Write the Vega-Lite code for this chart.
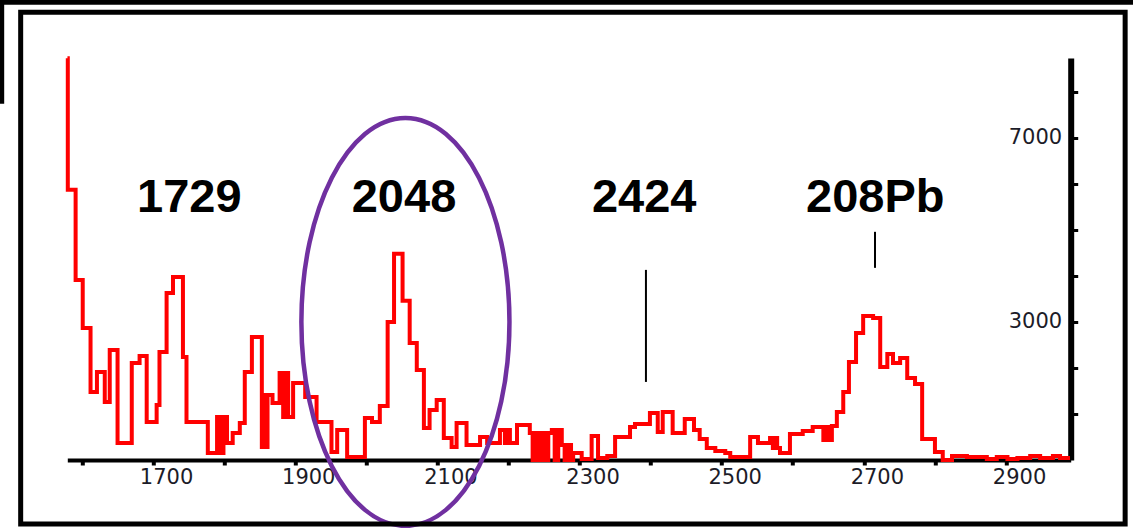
{
  "$schema": "https://vega.github.io/schema/vega-lite/v6.json",
  "width": 1003.4,
  "height": 402,
  "autosize": {"type": "none"},
  "padding": {"left": 67.3, "top": 58, "right": 62.3, "bottom": 68},
  "background": "white",
  "config": {
    "view": {"stroke": null},
    "axis": {"grid": false, "title": null},
    "axisX": {
      "labelOffset": 13, "labelPadding": 1, "labelFont": "DejaVu Sans", "labelFontSize": 21,
      "labelColor": "#1c1c28", "labelFlush": false, "labelOverlap": false,
      "domainColor": "black", "domainWidth": 4, "tickColor": "black", "tickWidth": 4, "tickSize": 5
    },
    "axisY": {
      "labelAlign": "right", "labelPadding": -16, "labelFont": "DejaVu Sans", "labelFontSize": 21,
      "labelColor": "#1c1c28", "labelFlush": false, "labelOverlap": false, "labelBaseline": "middle",
      "domainColor": "black", "domainWidth": 6, "tickColor": "black", "tickWidth": 3, "tickSize": 7
    }
  },
  "datasets": {
    "spectrum": [
      {"e": 1579.5, "c": 8730}, {"e": 1580, "c": 5870}, {"e": 1591, "c": 3913}, {"e": 1601, "c": 2870},
      {"e": 1612, "c": 1478}, {"e": 1621, "c": 1913}, {"e": 1632, "c": 1261}, {"e": 1639, "c": 2391},
      {"e": 1650, "c": 370}, {"e": 1670, "c": 2109}, {"e": 1681, "c": 2261}, {"e": 1691, "c": 826},
      {"e": 1705, "c": 1196}, {"e": 1709, "c": 2348}, {"e": 1719, "c": 3630}, {"e": 1728, "c": 3978},
      {"e": 1742, "c": 2239}, {"e": 1747, "c": 826}, {"e": 1777, "c": 152}, {"e": 1790, "c": 935},
      {"e": 1795, "c": 152}, {"e": 1799, "c": 935}, {"e": 1804, "c": 370}, {"e": 1812, "c": 587},
      {"e": 1822, "c": 804}, {"e": 1829, "c": 1913}, {"e": 1839, "c": 2674}, {"e": 1853, "c": 283},
      {"e": 1856, "c": 1413}, {"e": 1859, "c": 283}, {"e": 1861, "c": 1413}, {"e": 1868, "c": 1239},
      {"e": 1878, "c": 1891}, {"e": 1883, "c": 935}, {"e": 1885, "c": 1891}, {"e": 1890, "c": 935},
      {"e": 1897, "c": 1674}, {"e": 1914, "c": 1370}, {"e": 1930, "c": 826}, {"e": 1951, "c": 174},
      {"e": 1959, "c": 652}, {"e": 1973, "c": 65}, {"e": 1998, "c": 913}, {"e": 2008, "c": 826},
      {"e": 2019, "c": 1174}, {"e": 2030, "c": 3000}, {"e": 2039, "c": 4478}, {"e": 2051, "c": 3457},
      {"e": 2061, "c": 2543}, {"e": 2071, "c": 1957}, {"e": 2081, "c": 696}, {"e": 2089, "c": 1087},
      {"e": 2099, "c": 1304}, {"e": 2109, "c": 478}, {"e": 2120, "c": 283}, {"e": 2127, "c": 804},
      {"e": 2141, "c": 326}, {"e": 2160, "c": 500}, {"e": 2170, "c": 370}, {"e": 2188, "c": 652},
      {"e": 2195, "c": 370}, {"e": 2198, "c": 652}, {"e": 2202, "c": 370}, {"e": 2212, "c": 761},
      {"e": 2230, "c": 587}, {"e": 2234, "c": 0}, {"e": 2239, "c": 587}, {"e": 2243, "c": 0},
      {"e": 2247, "c": 587}, {"e": 2251, "c": 0}, {"e": 2256, "c": 587}, {"e": 2261, "c": 652},
      {"e": 2265, "c": 0}, {"e": 2270, "c": 652}, {"e": 2275, "c": 326}, {"e": 2279, "c": 0},
      {"e": 2284, "c": 326}, {"e": 2288, "c": 0}, {"e": 2291, "c": 152}, {"e": 2303, "c": 22},
      {"e": 2317, "c": 522}, {"e": 2326, "c": 43}, {"e": 2339, "c": 87}, {"e": 2350, "c": 500},
      {"e": 2371, "c": 717}, {"e": 2378, "c": 783}, {"e": 2399, "c": 1022}, {"e": 2410, "c": 609},
      {"e": 2417, "c": 1043}, {"e": 2431, "c": 587}, {"e": 2448, "c": 891}, {"e": 2461, "c": 652},
      {"e": 2469, "c": 457}, {"e": 2479, "c": 261}, {"e": 2491, "c": 196}, {"e": 2505, "c": 152},
      {"e": 2512, "c": 65}, {"e": 2540, "c": 500}, {"e": 2551, "c": 370}, {"e": 2568, "c": 478},
      {"e": 2572, "c": 261}, {"e": 2575, "c": 478}, {"e": 2578, "c": 261}, {"e": 2582, "c": 152},
      {"e": 2596, "c": 565}, {"e": 2614, "c": 630}, {"e": 2628, "c": 717}, {"e": 2638, "c": 717},
      {"e": 2643, "c": 435}, {"e": 2647, "c": 717}, {"e": 2651, "c": 435}, {"e": 2655, "c": 739},
      {"e": 2662, "c": 1043}, {"e": 2671, "c": 1478}, {"e": 2679, "c": 2130}, {"e": 2689, "c": 2761},
      {"e": 2699, "c": 3130}, {"e": 2713, "c": 3087}, {"e": 2723, "c": 2022}, {"e": 2733, "c": 2304},
      {"e": 2741, "c": 2109}, {"e": 2751, "c": 2217}, {"e": 2761, "c": 1783}, {"e": 2772, "c": 1652},
      {"e": 2782, "c": 457}, {"e": 2800, "c": 174}, {"e": 2811, "c": 0}, {"e": 2824, "c": 87},
      {"e": 2845, "c": 65}, {"e": 2873, "c": 22}, {"e": 2887, "c": 65}, {"e": 2902, "c": 22},
      {"e": 2916, "c": 43}, {"e": 2934, "c": 87}, {"e": 2948, "c": 43}, {"e": 2966, "c": 87},
      {"e": 2976, "c": 43}, {"e": 2990, "c": 43}
    ],
    "labels": [
      {"label": "1729", "e": 1751, "c": 5391},
      {"label": "2048", "e": 2053, "c": 5391},
      {"label": "2424", "e": 2391, "c": 5391},
      {"label": "208Pb", "e": 2716, "c": 5391}
    ],
    "pointers": [
      {"e": 2393.4, "c": 4130, "c2": 1696},
      {"e": 2715.7, "c": 4957, "c2": 4174}
    ],
    "circle": [
      {"e": 2055, "c": 3000}
    ]
  },
  "layer": [
    {
      "data": {"name": "spectrum"},
      "mark": {"type": "line", "interpolate": "step-after", "color": "#ff0000", "strokeWidth": 4},
      "encoding": {
        "x": {
          "field": "e", "type": "quantitative",
          "scale": {"domain": [1579.3, 2991], "nice": false, "zero": false},
          "axis": {
            "orient": "bottom", "title": null,
            "values": [1600, 1700, 1800, 1900, 2000, 2100, 2200, 2300, 2400, 2500, 2600, 2700, 2800, 2900],
            "labelExpr": "datum.value % 200 == 100 ? datum.label : ''",
            "format": "d"
          }
        },
        "y": {
          "field": "c", "type": "quantitative",
          "scale": {"domain": [0, 8733], "nice": false, "zero": false},
          "axis": {
            "orient": "right", "title": null,
            "values": [1000, 2000, 3000, 4000, 5000, 6000, 7000, 8000],
            "labelExpr": "datum.value == 3000 || datum.value == 7000 ? datum.label : ''",
            "format": "d"
          }
        }
      }
    },
    {
      "data": {"name": "pointers"},
      "mark": {"type": "rule", "color": "black", "strokeWidth": 2},
      "encoding": {
        "x": {"field": "e", "type": "quantitative"},
        "y": {"field": "c", "type": "quantitative"},
        "y2": {"field": "c2"}
      }
    },
    {
      "data": {"name": "labels"},
      "mark": {"type": "text", "font": "Liberation Sans", "fontWeight": "bold", "fontSize": 47, "color": "black", "align": "center", "baseline": "alphabetic"},
      "encoding": {
        "x": {"field": "e", "type": "quantitative"},
        "y": {"field": "c", "type": "quantitative"},
        "text": {"field": "label"}
      }
    },
    {
      "data": {"name": "circle"},
      "mark": {"type": "point", "shape": "M -0.51 0 A 0.51 1 0 1 0 0.51 0 A 0.51 1 0 1 0 -0.51 0 Z", "size": 166464, "filled": false, "stroke": "#7030a0", "strokeWidth": 4.5, "opacity": 1},
      "encoding": {
        "x": {"field": "e", "type": "quantitative"},
        "y": {"field": "c", "type": "quantitative"}
      }
    },
    {
      "data": {"values": [{}]},
      "mark": {"type": "rect", "filled": false, "stroke": "black", "strokeWidth": 5, "fill": null},
      "encoding": {
        "x": {"datum": 1513.7, "type": "quantitative"},
        "x2": {"datum": 3067.6},
        "y": {"datum": 9728, "type": "quantitative"},
        "y2": {"datum": -1391}
      }
    },
    {
      "data": {"values": [{}]},
      "mark": {"type": "rule", "color": "black", "strokeWidth": 5},
      "encoding": {
        "x": {"datum": 1484.2, "type": "quantitative"},
        "x2": {"datum": 3079},
        "y": {"datum": 9946, "type": "quantitative"}
      }
    },
    {
      "data": {"values": [{}]},
      "mark": {"type": "rule", "color": "black", "strokeWidth": 5},
      "encoding": {
        "x": {"datum": 1487, "type": "quantitative"},
        "y": {"datum": 10000, "type": "quantitative"},
        "y2": {"datum": 7739}
      }
    }
  ]
}
